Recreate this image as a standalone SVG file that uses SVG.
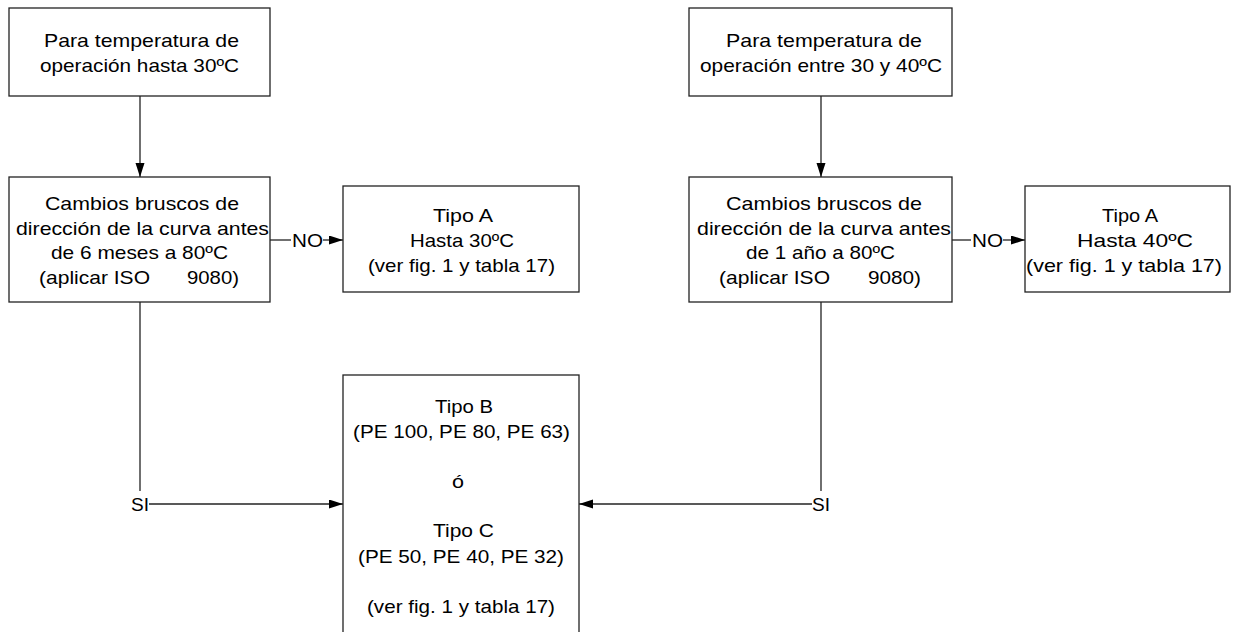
<svg xmlns="http://www.w3.org/2000/svg" width="1236" height="632" viewBox="0 0 1236 632">
<style>
.box{fill:#fff;stroke:#222;stroke-width:1.3}
.t{font-family:"Liberation Sans",Arial,sans-serif;font-size:19px;fill:#000}
.ln{fill:none;stroke:#222;stroke-width:1.3}
</style>
<defs>
<marker id="ah" markerUnits="userSpaceOnUse" markerWidth="15" markerHeight="10" refX="14" refY="4.5" orient="auto">
<path d="M0,0 L14,4.5 L0,9 Z" fill="#000"/>
</marker>
</defs>
<rect width="1236" height="632" fill="#fff"/>
<g id="connectors">
<line class="ln" x1="140" y1="96" x2="140" y2="177" marker-end="url(#ah)"/>
<line class="ln" x1="821" y1="96" x2="821" y2="177" marker-end="url(#ah)"/>
<line class="ln" x1="270" y1="240" x2="291" y2="240"/>
<text class="t" x="292" y="247" textLength="31" lengthAdjust="spacingAndGlyphs">NO</text>
<line class="ln" x1="323" y1="240" x2="343" y2="240" marker-end="url(#ah)"/>
<line class="ln" x1="952" y1="240" x2="971" y2="240"/>
<text class="t" x="972" y="247" textLength="31" lengthAdjust="spacingAndGlyphs">NO</text>
<line class="ln" x1="1003" y1="240" x2="1025" y2="240" marker-end="url(#ah)"/>
<line class="ln" x1="140" y1="302" x2="140" y2="491"/>
<text class="t" x="131" y="511" textLength="18" lengthAdjust="spacingAndGlyphs">SI</text>
<line class="ln" x1="149" y1="504" x2="343" y2="504" marker-end="url(#ah)"/>
<line class="ln" x1="821" y1="302" x2="821" y2="491"/>
<text class="t" x="812" y="511" textLength="18" lengthAdjust="spacingAndGlyphs">SI</text>
<line class="ln" x1="812" y1="504" x2="579" y2="504" marker-end="url(#ah)"/>
</g>
<g id="n1">
<rect class="box" x="9" y="8" width="261" height="88"/>
<text class="t" x="44" y="47" textLength="195" lengthAdjust="spacingAndGlyphs">Para temperatura de</text>
<text class="t" x="40" y="72" textLength="199" lengthAdjust="spacingAndGlyphs">operación hasta 30ºC</text>
</g>
<g id="n2">
<rect class="box" x="9" y="177" width="261" height="125"/>
<text class="t" x="45" y="210" textLength="194" lengthAdjust="spacingAndGlyphs">Cambios bruscos de</text>
<text class="t" x="16" y="235" textLength="253" lengthAdjust="spacingAndGlyphs">dirección de la curva antes</text>
<text class="t" x="51" y="259" textLength="177" lengthAdjust="spacingAndGlyphs">de 6 meses a 80ºC</text>
<text class="t" x="39" y="284" textLength="111" lengthAdjust="spacingAndGlyphs">(aplicar ISO</text>
<text class="t" x="187" y="284" textLength="52" lengthAdjust="spacingAndGlyphs">9080)</text>
</g>
<g id="n3">
<rect class="box" x="343" y="186" width="236" height="106"/>
<text class="t" x="433" y="222" textLength="60" lengthAdjust="spacingAndGlyphs">Tipo A</text>
<text class="t" x="410" y="247" textLength="104" lengthAdjust="spacingAndGlyphs">Hasta 30ºC</text>
<text class="t" x="368" y="272" textLength="187" lengthAdjust="spacingAndGlyphs">(ver fig. 1 y tabla 17)</text>
</g>
<g id="n4">
<rect class="box" x="689" y="8" width="263" height="88"/>
<text class="t" x="726" y="47" textLength="196" lengthAdjust="spacingAndGlyphs">Para temperatura de</text>
<text class="t" x="700" y="72" textLength="242" lengthAdjust="spacingAndGlyphs">operación entre 30 y 40ºC</text>
</g>
<g id="n5">
<rect class="box" x="689" y="177" width="263" height="125"/>
<text class="t" x="726" y="210" textLength="196" lengthAdjust="spacingAndGlyphs">Cambios bruscos de</text>
<text class="t" x="697" y="235" textLength="254" lengthAdjust="spacingAndGlyphs">dirección de la curva antes</text>
<text class="t" x="746" y="259" textLength="149" lengthAdjust="spacingAndGlyphs">de 1 año a 80ºC</text>
<text class="t" x="719" y="284" textLength="111" lengthAdjust="spacingAndGlyphs">(aplicar ISO</text>
<text class="t" x="868" y="284" textLength="53" lengthAdjust="spacingAndGlyphs">9080)</text>
</g>
<g id="n6">
<rect class="box" x="1025" y="186" width="205" height="106"/>
<text class="t" x="1102" y="222" textLength="56" lengthAdjust="spacingAndGlyphs">Tipo A</text>
<text class="t" x="1077" y="247" textLength="116" lengthAdjust="spacingAndGlyphs">Hasta 40ºC</text>
<text class="t" x="1026" y="272" textLength="196" lengthAdjust="spacingAndGlyphs">(ver fig. 1 y tabla 17)</text>
</g>
<g id="n7">
<rect class="box" x="343" y="375" width="236" height="270"/>
<text class="t" x="435" y="413" textLength="58" lengthAdjust="spacingAndGlyphs">Tipo B</text>
<text class="t" x="353" y="438" textLength="217" lengthAdjust="spacingAndGlyphs">(PE 100, PE 80, PE 63)</text>
<text class="t" x="452" y="488" textLength="12" lengthAdjust="spacingAndGlyphs">ó</text>
<text class="t" x="433" y="537" textLength="61" lengthAdjust="spacingAndGlyphs">Tipo C</text>
<text class="t" x="358" y="563" textLength="206" lengthAdjust="spacingAndGlyphs">(PE 50, PE 40, PE 32)</text>
<text class="t" x="367" y="613" textLength="188" lengthAdjust="spacingAndGlyphs">(ver fig. 1 y tabla 17)</text>
</g>
</svg>
